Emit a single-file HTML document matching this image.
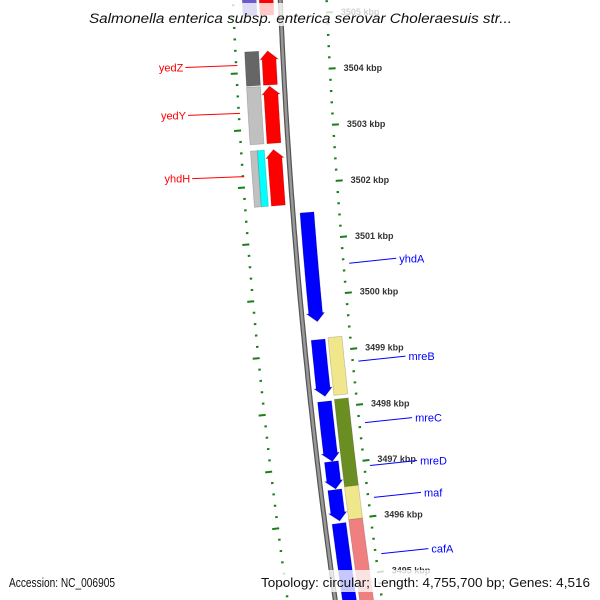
<!DOCTYPE html>
<html><head><meta charset="utf-8"><style>
html,body{margin:0;padding:0;background:#fff;overflow:hidden;width:600px;height:600px}
svg{display:block}
text{font-family:"Liberation Sans",sans-serif}
</style></head><body>
<svg id="map" width="600" height="600" viewBox="0 0 600 600" xmlns="http://www.w3.org/2000/svg">
<g id="ticks"></g>
<g id="feats"></g>
<g id="labels"></g>
<rect x="84" y="3" width="432" height="23" fill="#fff" opacity="0.78"/>
<text x="89" y="23" textLength="423" lengthAdjust="spacingAndGlyphs" font-size="13.5" font-style="italic" fill="#111">Salmonella enterica subsp. enterica serovar Choleraesuis str...</text>
<rect x="257" y="570" width="338" height="22" fill="#fff" opacity="0.78"/>
<text x="9" y="587" textLength="106" lengthAdjust="spacingAndGlyphs" font-size="12.5" fill="#111">Accession: NC_006905</text>
<text x="261" y="587" textLength="329" lengthAdjust="spacingAndGlyphs" font-size="12.5" fill="#111">Topology: circular; Length: 4,755,700 bp; Genes: 4,516</text>
</svg>
<script>
// data
const featStart = [3505.6, 3504.37, 3503.75, 3502.63, 3505.6, 3504.37, 3503.75, 3502.63, 3502.63, 3501.48, 3499.22, 3498.12, 3497.05, 3496.55, 3495.95, 3499.24, 3498.14, 3496.58, 3495.99];
const featEnd   = [3505.0, 3503.77, 3502.74, 3501.64, 3505.0, 3503.77, 3502.74, 3501.64, 3501.64, 3499.54, 3498.21, 3497.05, 3496.56, 3495.99, 3494.3, 3498.21, 3496.58, 3495.99, 3494.3];
const featTrack = ["fwd","fwd","fwd","fwd","cogL","cogL","cogL","cogLa","cogLb","rev","rev","rev","rev","rev","rev","cogR","cogR","cogR","cogR"];
const featColor = ["#ff0000","#ff0000","#ff0000","#ff0000","#6a5acd","#666666","#c0c0c0","#c0c0c0","#00ffff","#0000ff","#0000ff","#0000ff","#0000ff","#0000ff","#0000ff","#f0e68c","#6b8e23","#f0e68c","#f08080"];
const labelText = ["yedZ","yedY","yhdH","yhdA","mreB","mreC","mreD","maf","cafA"];
const labelKbp  = [3504.14, 3503.3, 3502.19, 3500.52, 3498.77, 3497.67, 3496.9, 3496.33, 3495.32];
const labelSide = ["L","L","L","R","R","R","R","R","R"];
const majorTicks = [3505,3504,3503,3502,3501,3500,3499,3498,3497,3496,3495];
const kbpMin = 3494.2, kbpMax = 3505.8;

const NS="http://www.w3.org/2000/svg";
const CX=6354, CY=-254, R=6079, K=0.00932, PHI0=0.0535;
function phi(kbp){return PHI0+(3504-kbp)*K;}
function pt(kbp,off){const r=R+off,p=phi(kbp);return [CX-r*Math.cos(p), CY+r*Math.sin(p)];}
function mk(tag,attrs,parent){const e=document.createElementNS(NS,tag);for(const k in attrs)e.setAttribute(k,attrs[k]);parent.appendChild(e);return e;}
const tracks={fwd:[8,22],cogL:[24,38],cogLa:[31,38],cogLb:[24,31],rev:[-22,-8],cogR:[-38,-24]};
const gT=document.getElementById('ticks'),gF=document.getElementById('feats'),gL=document.getElementById('labels');

// backbone
let d="";for(let k=kbpMax;k>=kbpMin;k-=0.1){const p=pt(k,0);d+=(d?"L":"M")+p[0].toFixed(1)+","+p[1].toFixed(1);}
const bb1=mk('path',{d:d,fill:'none',stroke:'#555','stroke-width':5},gF);


const bb2=mk('path',{d:d,fill:'none',stroke:'#999','stroke-width':2.5},gF);



// ticks
for(let i=Math.round(kbpMin*5);i<=Math.round(kbpMax*5);i++){
  const k=i/5, major=(i%5===0);
  [[-45,1],[46,-1]].forEach(([ro,dir])=>{
    const len=major?7:2.5;
    const a=pt(k,ro), b=pt(k,ro-dir*len);
    const t=mk('line',{x1:a[0],y1:a[1],x2:b[0],y2:b[1],stroke:'#1a7f1a','stroke-width':2},gT);
    
    
  });
}
majorTicks.forEach(k=>{
  const p=pt(k,-60);
  const t=mk('text',{x:p[0],y:p[1]+3,'font-size':9,'font-weight':'bold',fill:'#333'},gT);
  t.textContent=k+" kbp";
  
  
});

// features
featStart.forEach((s,i)=>{
  const e=featEnd[i], tr=featTrack[i], [o1,o2]=tracks[tr];
  const hi=Math.max(s,e), lo=Math.min(s,e);
  const head=0.15;
  let pts=[];
  if(tr==='fwd'){
    const bodyTop=hi-head;
    for(let k=lo;k<=bodyTop+1e-9;k+=0.05)pts.push(pt(k,o1-1));
    pts.push(pt(bodyTop,o1-1));pts.push(pt(bodyTop,o1-3));pts.push(pt(hi,(o1+o2)/2));pts.push(pt(bodyTop,o2+1));pts.push(pt(bodyTop,o2-1));
    for(let k=bodyTop;k>=lo-1e-9;k-=0.05)pts.push(pt(k,o2-1));
    pts.push(pt(lo,o2-1));
  } else if(tr==='rev'){
    const bodyLo=lo+head;
    for(let k=hi;k>=bodyLo-1e-9;k-=0.05)pts.push(pt(k,o1+1));
    pts.push(pt(bodyLo,o1+1));pts.push(pt(bodyLo,o1-1));pts.push(pt(lo,(o1+o2)/2));pts.push(pt(bodyLo,o2+3));pts.push(pt(bodyLo,o2+1));
    for(let k=bodyLo;k<=hi+1e-9;k+=0.05)pts.push(pt(k,o2+1));
    pts.push(pt(hi,o2+1));
  } else {
    for(let k=lo;k<=hi+1e-9;k+=0.05)pts.push(pt(k,o1));
    pts.push(pt(hi,o1));pts.push(pt(hi,o2));
    for(let k=hi;k>=lo-1e-9;k-=0.05)pts.push(pt(k,o2));
    pts.push(pt(lo,o2));
  }
  const poly=mk('polygon',{points:pts.map(p=>p[0].toFixed(1)+","+p[1].toFixed(1)).join(" "),fill:featColor[i],stroke:'rgba(0,0,0,0.18)','stroke-width':0.8},gF);
  
  
});

// labels
labelText.forEach((txt,i)=>{
  const k=labelKbp[i], left=labelSide[i]==='L';
  const col=left?'#ff0000':'#0000ff';
  const a=pt(k,left?46:-52);
  const b=[a[0]+(left?-52:47), a[1]+(left?2:-5)];
  const l=mk('line',{x1:a[0],y1:a[1],x2:b[0],y2:b[1],stroke:col,'stroke-width':1},gL);
  
  
  const t=mk('text',{x:b[0]+(left?-2:3),y:b[1]+4,'font-size':11,fill:col,'text-anchor':left?'end':'start'},gL);
  t.textContent=txt;
  
  
});
</script>
</body></html>
